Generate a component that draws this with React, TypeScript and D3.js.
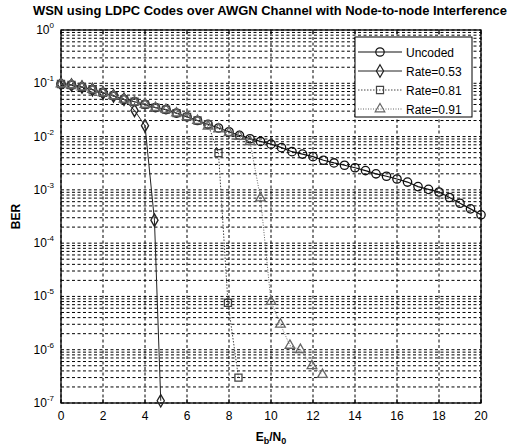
import * as d3 from 'd3';
import React from 'react';

// Eb/N0 grid (dB) and BER readings
const ebnoUncoded = [0, 0.5, 1, 1.5, 2, 2.5, 3, 3.5, 4, 4.5, 5, 5.5, 6, 6.5, 7, 7.5, 8, 8.5, 9, 9.5, 10,
  10.5, 11, 11.5, 12, 12.5, 13, 13.5, 14, 14.5, 15, 15.5, 16, 16.5, 17, 17.5, 18, 18.5, 19, 19.5, 20];
const berUncoded = [0.097, 0.093, 0.085, 0.076, 0.066, 0.058, 0.05, 0.045, 0.04, 0.035, 0.032, 0.0275,
  0.0234, 0.02, 0.017, 0.0145, 0.0123, 0.0105, 0.0091, 0.0081, 0.0072, 0.0062, 0.0052, 0.0047, 0.0042,
  0.0036, 0.0032, 0.0029, 0.0026, 0.0023, 0.002, 0.0018, 0.0016, 0.0014, 0.00115, 0.00102, 0.00091,
  0.00072, 0.00056, 0.00044, 0.00034];

const ebnoR053 = [0, 0.5, 1, 1.5, 2, 2.5, 3, 3.5, 4, 4.45, 4.75];
const berR053 = [0.097, 0.093, 0.085, 0.076, 0.066, 0.058, 0.05, 0.031, 0.016, 2.7e-4, 1.1e-7];

const ebnoR081 = [0, 0.5, 1, 1.5, 2, 2.5, 3, 3.5, 4, 4.5, 5, 5.5, 6, 6.5, 7, 7.5, 7.95, 8.45];
const berR081 = [0.097, 0.093, 0.085, 0.076, 0.066, 0.058, 0.05, 0.045, 0.04, 0.035, 0.032, 0.0275,
  0.0234, 0.02, 0.017, 4.9e-3, 7.6e-6, 3.0e-7];

const ebnoR091 = [0, 0.5, 1, 1.5, 2, 2.5, 3, 3.5, 4, 4.5, 5, 5.5, 6, 6.5, 7, 7.5, 8, 8.5, 9, 9.5, 10,
  10.45, 10.9, 11.4, 11.95, 12.45];
const berR091 = [0.097, 0.093, 0.085, 0.076, 0.066, 0.058, 0.05, 0.045, 0.04, 0.035, 0.032, 0.0275,
  0.0234, 0.02, 0.0155, 0.0138, 0.0118, 0.0100, 0.0080, 7e-4, 8e-6, 3e-6, 1.2e-6, 1.0e-6, 5e-7, 3.4e-7];

const xTicks = [0, 2, 4, 6, 8, 10, 12, 14, 16, 18, 20];
const yExponents = [0, -1, -2, -3, -4, -5, -6, -7];

const series = [
  { name: 'Uncoded', x: ebnoUncoded, y: berUncoded, symbol: d3.symbolCircle, size: 55, stroke: '#111', dash: null, width: 1.2 },
  { name: 'Rate=0.53', x: ebnoR053, y: berR053, symbol: d3.symbolDiamond, size: 45, stroke: '#222', dash: null, width: 1 },
  { name: 'Rate=0.81', x: ebnoR081, y: berR081, symbol: d3.symbolSquare, size: 50, stroke: '#444', dash: '1.5,1.5', width: 1 },
  { name: 'Rate=0.91', x: ebnoR091, y: berR091, symbol: d3.symbolTriangle, size: 40, stroke: '#666', dash: '1,1.5', width: 1 },
];

const W = 511;
const H = 447;
const margin = { left: 61, right: 30, top: 30, bottom: 44 };
const font = 'Liberation Sans, Arial, sans-serif';

export default function App() {
  const x = d3.scaleLinear().domain([0, 20]).range([margin.left, W - margin.right]);
  const y = d3.scaleLog().domain([1e-7, 1]).range([H - margin.bottom, margin.top]);
  const [x0, x1] = x.range();
  const [yb, yt] = y.range();

  const minorY: number[] = [];
  for (let e = -7; e < 0; e++) {
    for (let k = 2; k <= 9; k++) minorY.push(k * Math.pow(10, e));
  }

  const line = d3.line<[number, number]>().x((d) => x(d[0])).y((d) => y(d[1]));

  const legX = 355;
  const legY = 37;
  const legW = 117;
  const legH = 80;

  return (
    <svg width={W} height={H} style={{ position: 'absolute', left: 0, top: 0, background: '#fff' }}>
      <text x={270} y={15} textAnchor="middle" fontFamily={font} fontWeight="bold" fontSize={12.5}
        textLength={474} lengthAdjust="spacingAndGlyphs">
        WSN using LDPC Codes over AWGN Channel with Node-to-node Interference
      </text>

      {/* grid */}
      <g stroke="#000" strokeWidth={1} strokeDasharray="3,2.5">
        {minorY.map((v, i) => (
          <line key={'m' + i} x1={x0} x2={x1} y1={y(v)} y2={y(v)} />
        ))}
        {yExponents.map((e) => (
          <line key={'M' + e} x1={x0} x2={x1} y1={y(Math.pow(10, e))} y2={y(Math.pow(10, e))} />
        ))}
        {xTicks.map((t) => (
          <line key={'x' + t} x1={x(t)} x2={x(t)} y1={yb} y2={yt} />
        ))}
      </g>

      {/* axes box */}
      <rect x={x0} y={yt} width={x1 - x0} height={yb - yt} fill="none" stroke="#000" strokeWidth={1.3} />
      {xTicks.map((t) => (
        <g key={'tx' + t} stroke="#000">
          <line x1={x(t)} x2={x(t)} y1={yb} y2={yb - 4} />
          <line x1={x(t)} x2={x(t)} y1={yt} y2={yt + 4} />
        </g>
      ))}

      {/* series */}
      {series.map((s) => {
        const pts = s.x.map((v, i) => [v, s.y[i]] as [number, number]);
        const sym = d3.symbol().type(s.symbol).size(s.size)();
        return (
          <g key={s.name}>
            <path d={line(pts) || ''} fill="none" stroke={s.stroke} strokeWidth={s.width}
              strokeDasharray={s.dash || undefined} />
            {pts.map((p, i) => (
              <path key={i} d={sym || ''} transform={`translate(${x(p[0])},${y(p[1])})`}
                fill="none" stroke={s.stroke} strokeWidth={1.3} />
            ))}
          </g>
        );
      })}

      {/* tick labels */}
      {xTicks.map((t) => (
        <text key={'lx' + t} x={x(t)} y={yb + 17} textAnchor="middle" fontFamily={font} fontSize={12}>{t}</text>
      ))}
      {yExponents.map((e) => (
        <text key={'ly' + e} x={x0 - 7} y={y(Math.pow(10, e)) + 4} textAnchor="end" fontFamily={font} fontSize={12}>
          10<tspan dy={-6} fontSize={8}>{e}</tspan>
        </text>
      ))}

      {/* axis labels */}
      <text x={(x0 + x1) / 2} y={H - 6} textAnchor="middle" fontFamily={font} fontWeight="bold" fontSize={12}>
        E<tspan dy={3} fontSize={9}>b</tspan><tspan dy={-3}>/N</tspan><tspan dy={3} fontSize={9}>0</tspan>
      </text>
      <text transform={`translate(20,${(yt + yb) / 2}) rotate(-90)`} textAnchor="middle" fontFamily={font}
        fontWeight="bold" fontSize={12}>BER</text>

      {/* legend */}
      <g>
        <rect x={legX} y={legY} width={legW} height={legH} fill="#fff" stroke="#000" strokeWidth={1} />
        {series.map((s, i) => {
          const ly = legY + 15 + i * 19;
          const sym = d3.symbol().type(s.symbol).size(s.size)();
          return (
            <g key={'lg' + s.name}>
              <line x1={legX + 3} x2={legX + 47} y1={ly} y2={ly} stroke={s.stroke} strokeWidth={s.width}
                strokeDasharray={s.dash || undefined} />
              <path d={sym || ''} transform={`translate(${legX + 25},${ly})`} fill="none" stroke={s.stroke} strokeWidth={1.2} />
              <text x={legX + 51} y={ly + 4.5} fontFamily={font} fontSize={12}>{s.name}</text>
            </g>
          );
        })}
      </g>
    </svg>
  );
}
